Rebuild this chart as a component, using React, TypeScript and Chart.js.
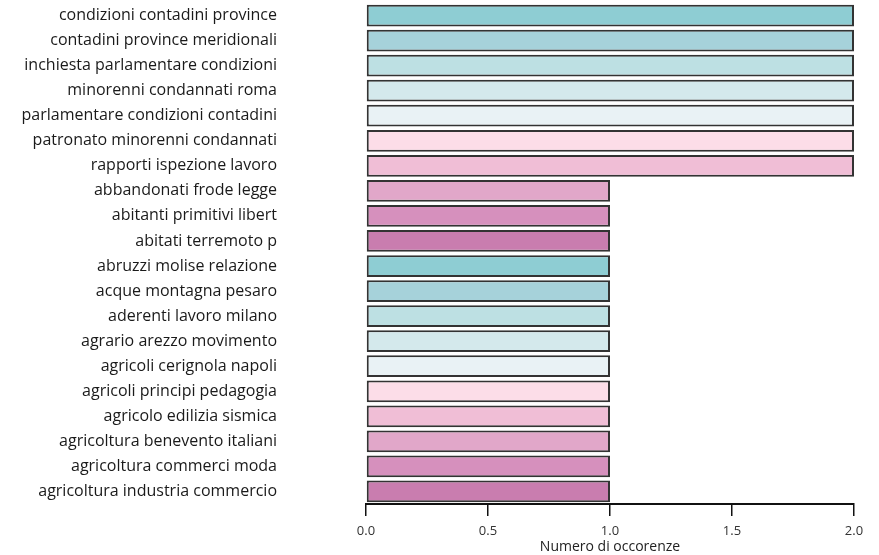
import React, { useEffect, useRef } from "react";
import { Chart, registerables } from "chart.js";

Chart.register(...registerables);

const categories: string[] = [
  "condizioni contadini province",
  "contadini province meridionali",
  "inchiesta parlamentare condizioni",
  "minorenni condannati roma",
  "parlamentare condizioni contadini",
  "patronato minorenni condannati",
  "rapporti ispezione lavoro",
  "abbandonati frode legge",
  "abitanti primitivi libert",
  "abitati terremoto p",
  "abruzzi molise relazione",
  "acque montagna pesaro",
  "aderenti lavoro milano",
  "agrario arezzo movimento",
  "agricoli cerignola napoli",
  "agricoli principi pedagogia",
  "agricolo edilizia sismica",
  "agricoltura benevento italiani",
  "agricoltura commerci moda",
  "agricoltura industria commercio",
];

const occurrences: number[] = [2, 2, 2, 2, 2, 2, 2, 1, 1, 1, 1, 1, 1, 1, 1, 1, 1, 1, 1, 1];

const palette: string[] = [
  "#8ecdd3",
  "#a6d2da",
  "#bde0e3",
  "#d4e9ec",
  "#e9f2f5",
  "#fcdde8",
  "#f0bed6",
  "#e1a7c9",
  "#d690bd",
  "#c97daf",
];

const xTicks: number[] = [0, 0.5, 1, 1.5, 2];
const xTitle = "Numero di occorenze";

export default function App() {
  const ref = useRef<HTMLCanvasElement | null>(null);

  useEffect(() => {
    if (!ref.current) return;
    const colors = categories.map((_, i) => palette[i % palette.length]);
    const chart = new Chart(ref.current, {
      type: "bar",
      data: {
        labels: categories,
        datasets: [
          {
            data: occurrences,
            backgroundColor: colors,
            borderColor: "#333333",
            borderWidth: 2,
            borderSkipped: false,
            barPercentage: 0.87,
            categoryPercentage: 1,
          },
        ],
      },
      options: {
        indexAxis: "y",
        animation: false,
        responsive: false,
        maintainAspectRatio: false,
        layout: { padding: { top: 3, right: 25, bottom: 0, left: 0 } },
        plugins: { legend: { display: false }, tooltip: { enabled: false } },
        scales: {
          y: {
            afterFit: (s: any) => {
              s.width = 366;
              s.paddingTop = 0;
              s.paddingBottom = 0;
            },
            grid: {
              display: true,
              drawOnChartArea: false,
              drawTicks: true,
              tickLength: 85,
              color: "rgba(0,0,0,0)",
            },
            border: { display: false },
            ticks: {
              padding: 4,
              color: "#1a1a1a",
              font: { family: "'Open Sans', sans-serif", size: 16 },
              autoSkip: false,
            },
          },
          x: {
            min: 0,
            max: 2,
            afterFit: (s: any) => {
              s.height = 51;
            },
            afterBuildTicks: (s: any) => {
              s.ticks = xTicks.map((v) => ({ value: v }));
            },
            grid: {
              display: true,
              drawOnChartArea: false,
              drawTicks: true,
              tickLength: 12,
              color: "#111111",
              lineWidth: 1.5,
            },
            border: { display: true, color: "#111111", width: 2 },
            ticks: {
              padding: 7,
              color: "#333333",
              font: { family: "'Open Sans', sans-serif", size: 13 },
              callback: (v: any) => Number(v).toFixed(1),
              maxRotation: 0,
            },
            title: {
              display: true,
              text: xTitle,
              color: "#222222",
              font: { family: "'Open Sans', sans-serif", size: 14 },
              padding: { top: 0, bottom: 0 },
            },
          },
        },
      },
    });
    return () => chart.destroy();
  }, []);

  return (
    <div style={{ position: "fixed", left: 0, top: 0, width: 879, height: 555, background: "#ffffff" }}>
      <canvas ref={ref} width={879} height={555} style={{ width: 879, height: 555, display: "block" }} />
    </div>
  );
}
